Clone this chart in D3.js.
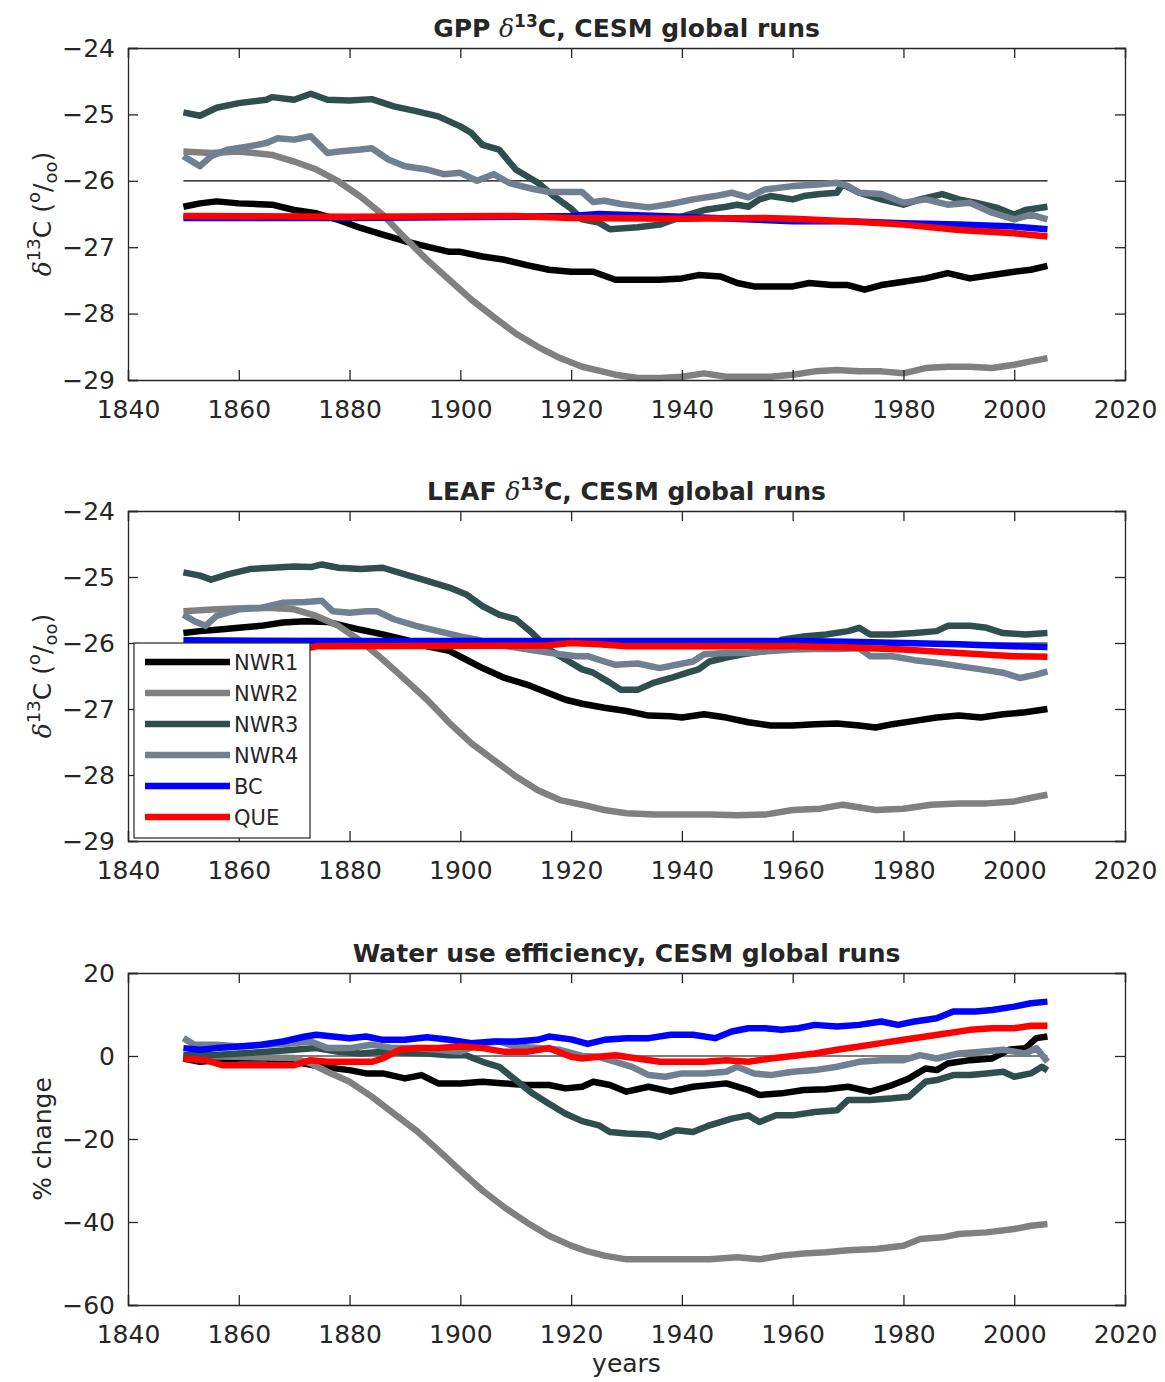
<!DOCTYPE html>
<html><head><meta charset="utf-8">
<script src="https://cdn.jsdelivr.net/npm/d3@7"></script>
<style>
body{margin:0;background:#fff;}
text{font-family:"DejaVu Sans",sans-serif;fill:#262626;}
</style></head>
<body><svg id="c" width="1165" height="1382"></svg>
<script>
const seriesNames = ["NWR1","NWR2","NWR3","NWR4","BC","QUE"];
const seriesColors = ["#000000","#808080","#2F4F4F","#708090","#0000FF","#FF0000"];
const xTicks = [1840,1860,1880,1900,1920,1940,1960,1980,2000,2020];
const d13Ticks = [-29,-28,-27,-26,-25,-24];
const wueTicks = [-60,-40,-20,0,20];

// ---- GPP d13C ----
const gpp_NWR1 = [[1850,-26.39],[1853,-26.34],[1856,-26.31],[1860,-26.34],[1866,-26.36],[1870,-26.44],[1874,-26.49],[1878,-26.59],[1882,-26.71],[1886,-26.81],[1890,-26.91],[1894,-26.99],[1898,-27.07],[1900,-27.07],[1904,-27.14],[1908,-27.19],[1912,-27.27],[1916,-27.34],[1920,-27.37],[1924,-27.37],[1928,-27.49],[1932,-27.49],[1936,-27.49],[1940,-27.47],[1943,-27.42],[1947,-27.44],[1950,-27.54],[1953,-27.59],[1957,-27.59],[1960,-27.59],[1963,-27.54],[1967,-27.57],[1970,-27.57],[1973,-27.64],[1976,-27.57],[1980,-27.52],[1984,-27.47],[1988,-27.39],[1992,-27.47],[1996,-27.42],[2000,-27.37],[2003,-27.34],[2006,-27.28]];
const gpp_NWR2 = [[1850,-25.56],[1855,-25.58],[1860,-25.56],[1866,-25.61],[1870,-25.71],[1874,-25.83],[1878,-26.01],[1882,-26.24],[1886,-26.51],[1890,-26.86],[1894,-27.19],[1898,-27.49],[1902,-27.79],[1906,-28.05],[1910,-28.3],[1914,-28.5],[1918,-28.67],[1922,-28.8],[1925,-28.86],[1928,-28.92],[1932,-28.97],[1936,-28.97],[1940,-28.95],[1944,-28.9],[1948,-28.95],[1952,-28.95],[1956,-28.95],[1960,-28.92],[1964,-28.87],[1968,-28.85],[1972,-28.87],[1976,-28.87],[1980,-28.9],[1984,-28.82],[1988,-28.8],[1992,-28.8],[1996,-28.82],[2000,-28.77],[2003,-28.72],[2006,-28.67]];
const gpp_NWR3 = [[1850,-24.97],[1853,-25.02],[1856,-24.9],[1860,-24.83],[1865,-24.78],[1866,-24.74],[1870,-24.78],[1873,-24.69],[1876,-24.78],[1880,-24.79],[1884,-24.77],[1888,-24.88],[1892,-24.95],[1896,-25.03],[1900,-25.18],[1902,-25.28],[1904,-25.46],[1907,-25.53],[1910,-25.83],[1914,-26.03],[1917,-26.24],[1920,-26.42],[1922,-26.58],[1925,-26.63],[1927,-26.73],[1932,-26.7],[1936,-26.66],[1940,-26.54],[1944,-26.44],[1948,-26.39],[1950,-26.36],[1952,-26.39],[1954,-26.28],[1956,-26.23],[1960,-26.28],[1962,-26.23],[1965,-26.2],[1968,-26.18],[1969,-26.05],[1972,-26.18],[1976,-26.28],[1980,-26.36],[1983,-26.28],[1987,-26.2],[1990,-26.28],[1993,-26.33],[1997,-26.41],[2000,-26.51],[2002,-26.44],[2006,-26.39]];
const gpp_NWR4 = [[1850,-25.63],[1852,-25.73],[1853,-25.78],[1855,-25.63],[1858,-25.53],[1862,-25.48],[1865,-25.43],[1867,-25.36],[1870,-25.38],[1873,-25.33],[1876,-25.58],[1878,-25.56],[1882,-25.53],[1884,-25.51],[1887,-25.68],[1890,-25.78],[1894,-25.83],[1897,-25.9],[1900,-25.88],[1903,-26.0],[1906,-25.9],[1909,-26.04],[1913,-26.12],[1916,-26.17],[1920,-26.17],[1922,-26.17],[1924,-26.32],[1926,-26.3],[1929,-26.35],[1934,-26.4],[1938,-26.35],[1942,-26.28],[1946,-26.23],[1949,-26.18],[1952,-26.25],[1955,-26.13],[1960,-26.08],[1964,-26.06],[1968,-26.03],[1970,-26.08],[1972,-26.18],[1976,-26.2],[1980,-26.33],[1984,-26.28],[1988,-26.36],[1992,-26.33],[1996,-26.48],[2000,-26.58],[2003,-26.51],[2006,-26.58]];
const gpp_BC = [[1850,-26.56],[1880,-26.56],[1910,-26.54],[1920,-26.53],[1925,-26.5],[1940,-26.54],[1960,-26.61],[1970,-26.61],[1980,-26.64],[1990,-26.66],[2000,-26.69],[2006,-26.73]];
const gpp_QUE = [[1850,-26.53],[1880,-26.54],[1910,-26.53],[1920,-26.56],[1940,-26.57],[1955,-26.56],[1960,-26.57],[1970,-26.61],[1980,-26.66],[1990,-26.74],[2000,-26.79],[2006,-26.84]];

// ---- LEAF d13C ----
const leaf_NWR1 = [[1850,-25.85],[1853,-25.82],[1856,-25.8],[1860,-25.77],[1864,-25.74],[1868,-25.69],[1872,-25.67],[1876,-25.68],[1879,-25.74],[1882,-25.8],[1886,-25.87],[1890,-25.95],[1894,-26.05],[1898,-26.12],[1901,-26.25],[1904,-26.38],[1908,-26.53],[1912,-26.63],[1916,-26.76],[1919,-26.86],[1922,-26.92],[1926,-26.98],[1930,-27.03],[1934,-27.1],[1938,-27.11],[1940,-27.13],[1944,-27.08],[1948,-27.13],[1952,-27.2],[1956,-27.25],[1960,-27.25],[1964,-27.23],[1968,-27.22],[1972,-27.25],[1975,-27.28],[1978,-27.23],[1982,-27.18],[1986,-27.13],[1990,-27.1],[1994,-27.13],[1998,-27.08],[2002,-27.05],[2006,-27.0]];
const leaf_NWR2 = [[1850,-25.52],[1856,-25.49],[1862,-25.47],[1866,-25.47],[1870,-25.49],[1874,-25.59],[1878,-25.74],[1882,-25.97],[1886,-26.25],[1890,-26.55],[1894,-26.86],[1898,-27.21],[1902,-27.52],[1906,-27.77],[1910,-28.02],[1914,-28.23],[1918,-28.38],[1922,-28.45],[1926,-28.53],[1930,-28.58],[1935,-28.6],[1940,-28.6],[1945,-28.6],[1950,-28.61],[1955,-28.6],[1960,-28.53],[1965,-28.51],[1969,-28.45],[1975,-28.53],[1980,-28.51],[1985,-28.45],[1990,-28.43],[1995,-28.43],[2000,-28.4],[2004,-28.33],[2006,-28.3]];
const leaf_NWR3 = [[1850,-24.93],[1853,-24.98],[1855,-25.04],[1858,-24.96],[1862,-24.88],[1866,-24.86],[1870,-24.84],[1873,-24.85],[1875,-24.81],[1878,-24.86],[1882,-24.88],[1886,-24.86],[1890,-24.96],[1894,-25.06],[1898,-25.16],[1901,-25.26],[1904,-25.44],[1907,-25.57],[1910,-25.64],[1913,-25.85],[1916,-26.1],[1919,-26.25],[1922,-26.4],[1924,-26.45],[1927,-26.6],[1929,-26.71],[1932,-26.71],[1935,-26.6],[1938,-26.53],[1941,-26.45],[1943,-26.4],[1945,-26.28],[1948,-26.22],[1951,-26.17],[1955,-26.12],[1958,-25.95],[1962,-25.9],[1966,-25.87],[1970,-25.82],[1972,-25.77],[1974,-25.87],[1978,-25.87],[1982,-25.85],[1986,-25.82],[1988,-25.74],[1992,-25.74],[1995,-25.77],[1998,-25.85],[2002,-25.87],[2006,-25.85]];
const leaf_NWR4 = [[1850,-25.57],[1852,-25.67],[1854,-25.74],[1856,-25.59],[1860,-25.49],[1864,-25.47],[1868,-25.39],[1872,-25.38],[1875,-25.36],[1877,-25.52],[1880,-25.54],[1883,-25.52],[1885,-25.52],[1888,-25.64],[1892,-25.74],[1896,-25.82],[1900,-25.9],[1903,-25.95],[1906,-26.02],[1910,-26.07],[1914,-26.12],[1918,-26.17],[1921,-26.2],[1923,-26.2],[1926,-26.28],[1928,-26.33],[1932,-26.31],[1936,-26.38],[1939,-26.33],[1942,-26.28],[1944,-26.17],[1948,-26.15],[1952,-26.15],[1956,-26.12],[1960,-26.1],[1964,-26.09],[1968,-26.09],[1972,-26.08],[1974,-26.2],[1978,-26.2],[1982,-26.26],[1986,-26.3],[1990,-26.35],[1994,-26.4],[1998,-26.45],[2001,-26.53],[2004,-26.48],[2006,-26.43]];
const leaf_BC = [[1850,-25.96],[1880,-25.97],[1920,-25.97],[1940,-25.97],[1960,-25.97],[1970,-25.98],[1980,-26.0],[1990,-26.02],[2000,-26.05],[2006,-26.06]];
const leaf_QUE = [[1850,-26.07],[1873,-26.07],[1874,-26.05],[1915,-26.04],[1920,-26.0],[1925,-26.02],[1930,-26.05],[1960,-26.05],[1970,-26.07],[1980,-26.1],[1990,-26.15],[2000,-26.2],[2006,-26.21]];

// ---- Water use efficiency (% change) ----
const wue_NWR1 = [[1850,-0.6],[1853,-1.4],[1856,-1.0],[1860,-0.6],[1865,-0.6],[1870,-1.4],[1875,-2.6],[1880,-3.4],[1883,-4.2],[1886,-4.2],[1890,-5.4],[1893,-4.6],[1896,-6.6],[1900,-6.6],[1904,-6.2],[1908,-6.6],[1912,-7.0],[1916,-7.0],[1919,-7.8],[1922,-7.4],[1924,-6.2],[1927,-7.0],[1930,-8.6],[1934,-7.4],[1938,-8.6],[1942,-7.4],[1948,-6.6],[1950,-7.4],[1952,-8.2],[1954,-9.4],[1958,-9.0],[1962,-8.2],[1966,-8.0],[1970,-7.4],[1974,-8.6],[1978,-7.0],[1981,-5.4],[1984,-3.0],[1986,-3.4],[1988,-1.8],[1992,-1.0],[1996,-0.6],[1999,1.5],[2002,1.9],[2004,4.3],[2006,4.7]];
const wue_NWR2 = [[1850,0.0],[1860,-0.2],[1870,-0.5],[1873,-1.8],[1876,-3.8],[1880,-6.2],[1884,-9.8],[1888,-13.9],[1892,-17.9],[1896,-22.7],[1900,-27.6],[1904,-32.4],[1908,-36.5],[1912,-40.1],[1916,-43.3],[1920,-45.7],[1923,-47.1],[1926,-48.1],[1930,-49.0],[1935,-49.0],[1940,-49.0],[1945,-49.0],[1950,-48.5],[1954,-49.0],[1958,-48.1],[1962,-47.6],[1966,-47.3],[1970,-46.8],[1975,-46.5],[1980,-45.7],[1983,-44.1],[1987,-43.7],[1990,-42.9],[1995,-42.5],[2000,-41.7],[2003,-40.9],[2006,-40.5]];
const wue_NWR3 = [[1850,0.2],[1855,0.2],[1860,0.6],[1865,1.0],[1870,1.5],[1874,1.9],[1878,1.0],[1882,0.6],[1886,1.0],[1890,0.8],[1894,0.6],[1898,0.2],[1901,0.2],[1904,-1.4],[1907,-2.6],[1910,-5.8],[1913,-9.0],[1916,-11.5],[1919,-13.9],[1922,-15.7],[1925,-16.7],[1927,-18.3],[1930,-18.7],[1934,-18.9],[1936,-19.5],[1939,-17.9],[1942,-18.3],[1945,-16.7],[1949,-15.1],[1952,-14.3],[1954,-15.9],[1957,-14.3],[1960,-14.3],[1964,-13.5],[1968,-13.1],[1970,-10.6],[1974,-10.6],[1978,-10.2],[1981,-9.8],[1984,-6.2],[1986,-5.8],[1989,-4.6],[1992,-4.6],[1995,-4.2],[1998,-3.8],[2000,-5.0],[2003,-4.2],[2005,-2.6],[2006,-3.5]];
const wue_NWR4 = [[1850,4.3],[1852,2.7],[1856,2.7],[1860,2.3],[1865,2.7],[1870,3.1],[1873,3.5],[1876,1.9],[1880,1.9],[1884,2.7],[1888,1.9],[1892,1.9],[1896,1.5],[1900,1.0],[1904,3.1],[1907,3.5],[1910,2.3],[1914,1.9],[1918,1.5],[1922,0.0],[1925,-0.2],[1928,-1.4],[1931,-2.6],[1934,-4.6],[1937,-5.0],[1940,-4.2],[1944,-4.2],[1948,-3.8],[1950,-2.6],[1953,-4.2],[1956,-4.6],[1960,-3.8],[1964,-3.4],[1968,-2.6],[1972,-1.4],[1976,-1.0],[1980,-1.0],[1983,0.2],[1986,-0.6],[1990,0.6],[1994,1.0],[1998,1.5],[2002,0.6],[2004,1.9],[2006,-1.4]];
const wue_BC = [[1850,1.9],[1853,1.5],[1856,1.9],[1860,2.3],[1864,2.7],[1868,3.5],[1872,4.7],[1874,5.1],[1877,4.7],[1880,4.3],[1883,4.7],[1886,3.9],[1890,3.9],[1894,4.5],[1898,3.9],[1902,3.1],[1906,3.5],[1910,3.5],[1914,3.9],[1916,4.7],[1920,4.0],[1923,2.9],[1926,3.9],[1930,4.3],[1934,4.3],[1938,5.1],[1942,5.1],[1946,4.3],[1949,5.9],[1952,6.7],[1955,6.7],[1958,6.3],[1961,6.7],[1964,7.5],[1968,7.1],[1972,7.5],[1976,8.3],[1979,7.5],[1982,8.3],[1986,9.1],[1989,10.7],[1993,10.7],[1996,11.1],[2000,11.9],[2003,12.7],[2006,13.1]];
const wue_QUE = [[1850,-0.6],[1854,-1.0],[1857,-2.2],[1860,-2.2],[1864,-2.2],[1868,-2.2],[1870,-2.2],[1873,-1.0],[1876,-1.4],[1880,-1.4],[1884,-1.4],[1886,-0.6],[1889,1.5],[1892,1.9],[1896,1.9],[1900,2.3],[1904,1.9],[1908,1.0],[1912,1.0],[1916,1.9],[1920,-0.2],[1922,-0.6],[1925,-0.2],[1928,0.2],[1932,-0.6],[1936,-1.4],[1940,-1.4],[1944,-1.4],[1948,-1.0],[1952,-1.4],[1956,-0.6],[1960,0.0],[1964,0.6],[1968,1.5],[1972,2.3],[1976,3.1],[1980,3.9],[1984,4.7],[1988,5.5],[1992,6.3],[1996,6.7],[2000,6.7],[2003,7.3],[2006,7.3]];

const panels = [
  {title:"GPP", top:48, bottom:380, domain:[-29,-24], ticks:d13Ticks, ref:-26,
   series:[gpp_NWR1,gpp_NWR2,gpp_NWR3,gpp_NWR4,gpp_BC,gpp_QUE], ylab:"d13"},
  {title:"LEAF", top:511, bottom:841, domain:[-29,-24], ticks:d13Ticks, ref:-26,
   series:[leaf_NWR1,leaf_NWR2,leaf_NWR3,leaf_NWR4,leaf_BC,leaf_QUE], ylab:"d13", legend:true},
  {title:"Water use efficiency, CESM global runs", top:973, bottom:1305, domain:[-60,20], ticks:wueTicks, ref:0,
   series:[wue_NWR1,wue_NWR2,wue_NWR3,wue_NWR4,wue_BC,wue_QUE], ylab:"% change", xlab:"years"}
];

const svg = d3.select("#c");
const L = 128, R = 1125;
const axisColor = "#262626";
const x = d3.scaleLinear().domain([1840,2020]).range([L,R]);

panels.forEach(p => {
  const y = d3.scaleLinear().domain(p.domain).range([p.bottom,p.top]);
  const g = svg.append("g");
  g.append("line").attr("x1",x(1850)).attr("x2",x(2006))
    .attr("y1",y(p.ref)).attr("y2",y(p.ref)).attr("stroke","#000").attr("stroke-width",1.2);
  const line = d3.line().x(d=>x(d[0])).y(d=>y(d[1]));
  p.series.forEach((s,i)=>{
    g.append("path").attr("d",line(s)).attr("fill","none")
      .attr("stroke",seriesColors[i]).attr("stroke-width",6.5)
      .attr("stroke-linejoin","round").attr("stroke-linecap","butt");
  });
  const fmt = d => d3.format("d")(d).replace("-","\u2212");
  const bottomAx = d3.axisBottom(x).tickValues(xTicks).tickSize(-10).tickPadding(20).tickFormat(d3.format("d"));
  const leftAx = d3.axisLeft(y).tickValues(p.ticks).tickSize(-10).tickPadding(13).tickFormat(fmt);
  const topAx = d3.axisTop(x).tickValues(xTicks).tickSize(-10).tickFormat("");
  const rightAx = d3.axisRight(y).tickValues(p.ticks).tickSize(-10).tickFormat("");
  const gb = g.append("g").attr("transform",`translate(0,${p.bottom})`).call(bottomAx);
  const gl = g.append("g").attr("transform",`translate(${L},0)`).call(leftAx);
  const gt = g.append("g").attr("transform",`translate(0,${p.top})`).call(topAx);
  const gr = g.append("g").attr("transform",`translate(${R},0)`).call(rightAx);
  [gb,gl,gt,gr].forEach(a=>{
    a.selectAll(".domain").attr("stroke",axisColor).attr("stroke-width",1.3);
    a.selectAll(".tick line").attr("stroke",axisColor).attr("stroke-width",1.3);
    a.selectAll(".tick text").attr("fill",axisColor).style("font-size","25px")
      .style("font-family","'DejaVu Sans',sans-serif");
  });
  const t = svg.append("text").attr("x",(L+R)/2).attr("y",p.top-11)
    .attr("text-anchor","middle").style("font-size","25px").style("font-weight","bold").attr("fill","#000");
  if (p.title==="GPP" || p.title==="LEAF") {
    t.append("tspan").text(p.title+" ");
    t.append("tspan").text("\u03B4").style("font-style","italic").style("font-family","'DejaVu Serif',serif").style("font-weight","normal");
    t.append("tspan").text("13").attr("dy",-10).style("font-size","17px");
    t.append("tspan").text("C, CESM global runs").attr("dy",10);
  } else {
    t.text(p.title);
  }
  const cy = (p.top+p.bottom)/2;
  const yl = svg.append("text").attr("transform",`translate(51,${cy}) rotate(-90)`)
    .attr("text-anchor","middle").style("font-size","25px").attr("fill",axisColor);
  if (p.ylab==="d13") {
    yl.append("tspan").text("\u03B4").style("font-style","italic").style("font-family","'DejaVu Serif',serif");
    yl.append("tspan").text("13").attr("dy",-11).style("font-size","18px");
    yl.append("tspan").text("C (").attr("dy",11);
    yl.append("tspan").text("o").attr("dy",-11).style("font-size","18px");
    yl.append("tspan").text("/").attr("dy",11);
    yl.append("tspan").text("oo").attr("dy",6).style("font-size","18px");
    yl.append("tspan").text(")").attr("dy",-6);
  } else {
    yl.text(p.ylab);
  }
  if (p.xlab) {
    svg.append("text").attr("x",(L+R)/2).attr("y",p.bottom+67).attr("text-anchor","middle")
      .style("font-size","25px").attr("fill",axisColor).text(p.xlab);
  }
  if (p.legend) {
    const lx = 134, ly = y(-26), lw = 176, lh = 195;
    const lg = svg.append("g");
    lg.append("rect").attr("x",lx).attr("y",ly).attr("width",lw).attr("height",lh)
      .attr("fill","#fff").attr("stroke","#262626").attr("stroke-width",1.2);
    seriesNames.forEach((n,i)=>{
      const ry = ly + 19 + i*31;
      lg.append("line").attr("x1",145).attr("x2",230).attr("y1",ry).attr("y2",ry)
        .attr("stroke",seriesColors[i]).attr("stroke-width",6.5);
      lg.append("text").attr("x",234).attr("y",ry+8).style("font-size","21px").attr("fill","#000").text(n);
    });
  }
});
</script></body></html>
